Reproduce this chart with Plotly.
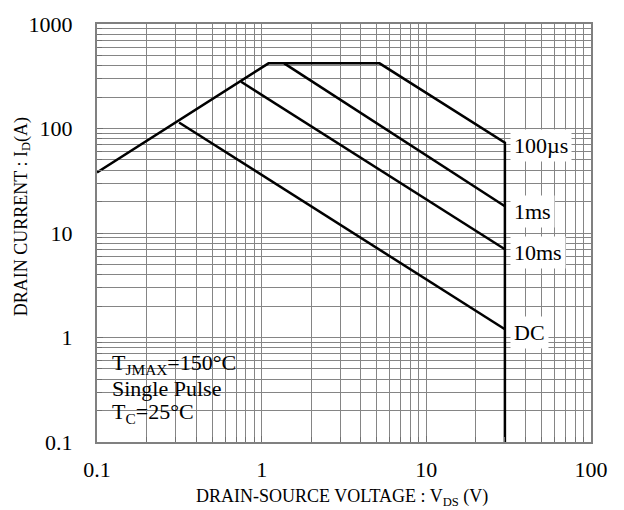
import math
import plotly.graph_objects as go

# Safe operating area curves (V_DS in volts, I_D in amperes)
vds_100us = [0.1, 1.1, 5.2, 30, 30]
id_100us = [38, 420, 420, 73, 0.1]

vds_1ms = [1.37, 30]
id_1ms = [420, 18]

vds_10ms = [0.75, 30]
id_10ms = [280, 7]

vds_dc = [0.315, 30]
id_dc = [114, 1.2]

x_ticks = [0.1, 1, 10, 100]
x_ticktext = ["0.1", "1", "10", "100"]
y_ticks = [0.1, 1, 10, 100, 1000]
y_ticktext = ["0.1", "1", "10", "100", "1000"]

FONT = "Liberation Serif"
GRID = "#858585"


def minor_vals(lo_exp, hi_exp):
    return [m * 10 ** e for e in range(lo_exp, hi_exp) for m in range(2, 10)]


fig = go.Figure()
for xs, ys in [(vds_100us, id_100us), (vds_1ms, id_1ms),
               (vds_10ms, id_10ms), (vds_dc, id_dc)]:
    fig.add_trace(go.Scatter(x=xs, y=ys, mode="lines",
                             line=dict(color="black", width=2.5),
                             showlegend=False, hoverinfo="skip"))

axis_common = dict(
    type="log", showgrid=True, gridcolor=GRID, gridwidth=1.2,
    showline=True, linecolor="#808080", linewidth=2, mirror=True,
    ticks="inside", ticklen=6, tickcolor="#707070", tickwidth=1,
    zeroline=False,
    tickfont=dict(family=FONT, size=22, color="black"),
)

fig.update_xaxes(range=[-1, 2], tickmode="array", tickvals=x_ticks,
                 ticktext=x_ticktext, ticklabelstandoff=7,
                 minor=dict(tickmode="array", tickvals=minor_vals(-1, 2),
                            ticks="inside", ticklen=5, tickcolor="#707070",
                            showgrid=True, gridcolor=GRID, gridwidth=1.2),
                 **axis_common)
fig.update_yaxes(range=[-1, 3], tickmode="array", tickvals=y_ticks,
                 ticktext=y_ticktext, ticklabelstandoff=18,
                 minor=dict(tickmode="array", tickvals=minor_vals(-1, 3),
                            ticks="inside", ticklen=5, tickcolor="#707070",
                            showgrid=True, gridcolor=GRID, gridwidth=1.2),
                 **axis_common)

# white panel behind the test-condition note
fig.add_shape(type="rect", xref="paper", yref="paper",
              x0=0.012, x1=0.29, y0=0.004, y1=0.246,
              fillcolor="white", line=dict(width=0), layer="between")

note_font = dict(family=FONT, size=22, color="black")
for txt, yp in [("T<sub>JMAX</sub>=150°C", 0.187),
                ("Single Pulse", 0.1285),
                ("T<sub>C</sub>=25°C", 0.070)]:
    fig.add_annotation(text=txt, xref="paper", yref="paper", x=0.026, y=yp,
                       xanchor="left", yanchor="middle", showarrow=False,
                       font=note_font)

# curve labels at the right end of each line
for txt, yv in [("100µs", 68.5), ("1ms", 16), ("10ms", 6.5), ("DC", 1.11)]:
    fig.add_annotation(text=txt, x=1.51, y=math.log10(yv),
                       xanchor="left", yanchor="middle", showarrow=False,
                       bgcolor="white", borderpad=3, font=note_font)

fig.add_annotation(text="DRAIN-SOURCE VOLTAGE : V<sub>DS</sub> (V)",
                   xref="paper", yref="paper", x=0.495, y=-0.132,
                   xanchor="center", yanchor="middle", showarrow=False,
                   font=dict(family=FONT, size=18, color="black"))
fig.add_annotation(text="DRAIN CURRENT : I<sub>D</sub>(A)",
                   xref="paper", yref="paper", x=-0.152, y=0.54,
                   xanchor="center", yanchor="middle", showarrow=False,
                   textangle=-90,
                   font=dict(family=FONT, size=18, color="black"))

fig.update_layout(width=624, height=510,
                  margin=dict(l=97, r=33, t=14, b=68),
                  plot_bgcolor="white", paper_bgcolor="white")

fig.write_html("out.html")
